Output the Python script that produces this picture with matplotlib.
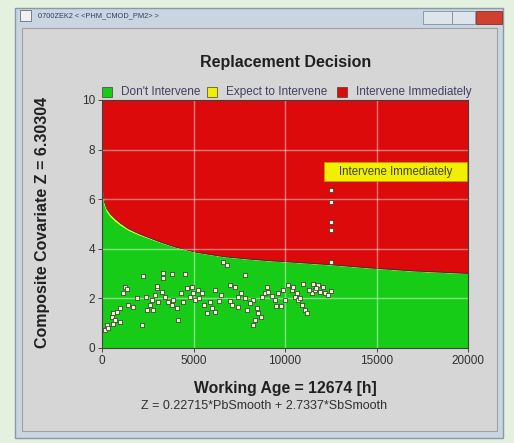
import matplotlib
matplotlib.use("Agg")
import matplotlib.pyplot as plt
from matplotlib.patches import Rectangle

plt.rcParams['font.family'] = ['Liberation Sans', 'DejaVu Sans']

# ---------------- data ----------------
title = "Replacement Decision"
legend_labels = ["Don't Intervene", "Expect to Intervene", "Intervene Immediately"]
x_ticks = [0, 5000, 10000, 15000, 20000]
y_ticks = [0, 2, 4, 6, 8, 10]

# decision boundary (green / red limit)
bound_t = [0, 40, 120, 250, 450, 710, 1000, 1420, 2000, 2600, 3280, 4000,
           5080, 6000, 6720, 8000, 9000, 10270, 11100, 12500, 14640, 17000, 20000]
bound_z = [6.4, 6.0, 5.75, 5.5, 5.3, 5.12, 4.96, 4.76, 4.57, 4.41, 4.23, 4.06,
           3.86, 3.75, 3.67, 3.58, 3.52, 3.46, 3.42, 3.35, 3.22, 3.1, 3.0]
# yellow "expect to intervene" band thickness along the boundary
band_w = [0.3, 0.2, 0.16, 0.13, 0.11, 0.1, 0.08, 0.06, 0.045, 0.03, 0.02, 0.015,
          0.01, 0.01, 0.01, 0.01, 0.01, 0.01, 0.01, 0.01, 0.01, 0.01, 0.01]

# observed composite covariate values
obs_t = [165, 255, 345, 530, 620, 710, 800, 985, 1165, 1260, 1350, 1440, 1710,
         2170, 2260, 2440, 2620, 2715, 2800, 2900, 2990, 3080, 3260, 3350, 3350,
         3440, 3800, 3800, 3900, 4080, 4170, 4535, 4630, 4810, 4900, 4990, 5080,
         5260, 5450, 5720, 5900, 5990, 6170, 6170, 6630, 6810, 6990, 7090, 7270,
         7450, 7450, 7810, 7810, 7910, 8270, 8270, 8360, 8450, 8540, 8730, 8910,
         9000, 9090, 9450, 9630, 9910, 10000, 10180, 10370, 10450, 10550, 10730,
         10820, 10910, 10910, 11090, 11190, 11460, 11550, 11640, 11820, 11910,
         12190, 12370, 1900, 3600, 4300, 5600, 6400, 7600, 8100, 9300, 9800,
         10650, 11300, 12050, 12500, 600, 1000, 2400, 3000, 4400, 5300, 6500,
         7000, 8700, 9500, 11000, 11700,
         12500, 12500, 12500, 12500, 12500]
obs_z = [0.73, 0.93, 0.8, 1.26, 1.4, 1.13, 1.47, 1.6, 2.23, 2.45, 2.37, 1.73, 1.67,
         0.93, 2.9, 1.53, 1.73, 1.94, 1.53, 2.14, 2.41, 1.87, 2.27, 3.04, 2.81,
         2.07, 2.98, 1.73, 1.94, 1.6, 1.13, 2.98, 2.41, 2.07, 2.47, 2.2, 1.94,
         2.34, 2.2, 1.4, 1.87, 1.6, 2.34, 1.47, 3.48, 3.35, 2.54, 1.73, 2.47,
         2.07, 1.67, 2.0, 2.94, 1.53, 1.94, 0.93, 1.13, 1.6, 1.4, 2.07, 2.2,
         2.47, 2.27, 1.94, 2.2, 2.34, 1.94, 2.54, 2.34, 2.47, 2.07, 1.94,
         2.0, 1.73, 1.73, 1.53, 1.4, 2.2, 2.6, 2.34, 2.54, 2.27,
         2.2, 2.14, 2.0, 1.85, 2.2, 1.75, 1.9, 2.2, 1.8, 2.1, 1.7,
         2.2, 2.35, 2.45, 2.3, 0.95, 1.05, 2.05, 2.5, 1.85, 2.0, 2.15,
         1.9, 1.25, 1.7, 2.6, 2.4,
         3.48, 4.76, 5.09, 5.9, 6.37]

current_age = 12674
current_z = 6.30304
xlabel = "Working Age = 12674 [h]"
ylabel = "Composite Covariate Z = 6.30304"
formula = "Z = 0.22715*PbSmooth + 2.7337*SbSmooth"
window_title = "0700ZEK2 < <PHM_CMOD_PM2> >"
annot_text = "Intervene Immediately"

# ---------------- colors ----------------
RED = "#dc0a0a"
GREEN = "#16cc16"
YELLOW = "#f2f000"

W, H = 514, 443
fig = plt.figure(figsize=(W / 100, H / 100), dpi=100)
fig.patch.set_facecolor("#e3f1de")

def fx(px):
    return px / W

def fy(py):
    return 1 - py / H

def frect(x0, y0, x1, y1, **kw):
    fig.patches.append(Rectangle((fx(x0), fy(y1)), fx(x1) - fx(x0), fy(y0) - fy(y1),
                                 transform=fig.transFigure, **kw))

# window frame
frect(15, 8, 503, 438, facecolor="#c9d6e2", edgecolor="#8a98a8", lw=1.0, zorder=0)
frect(22, 28, 497, 431, facecolor="#d6d6d6", edgecolor="#a0a0a0", lw=0.8, zorder=0.5)
# title bar buttons
frect(423, 11, 452, 24, facecolor="#dde4ea", edgecolor="#8090a0", lw=0.6, zorder=1)
frect(452, 11, 475, 24, facecolor="#dde4ea", edgecolor="#8090a0", lw=0.6, zorder=1)
frect(476, 11, 502, 24, facecolor="#d04030", edgecolor="#8a3020", lw=0.6, zorder=1)
frect(20, 10, 31, 21, facecolor="#f0f0f0", edgecolor="#607080", lw=0.6, zorder=1)
fig.text(fx(38), fy(16), window_title, fontsize=5.3, color="#304060",
         va="center", ha="left")

# axes
ax = fig.add_axes([fx(102), fy(348), fx(468) - fx(102), fy(100) - fy(348)])
ax.set_zorder(3)
ax.set_xlim(0, 20000)
ax.set_ylim(0, 10)

upper = [z + w for z, w in zip(bound_z, band_w)]
ax.fill_between(bound_t, 0, bound_z, color=GREEN, lw=0, zorder=1)
ax.fill_between(bound_t, bound_z, upper, color=YELLOW, lw=0, zorder=1)
ax.fill_between(bound_t, upper, 10, color=RED, lw=0, zorder=1)
ax.plot(bound_t, upper, color="#303030", lw=0.6, zorder=2)

for v in x_ticks[1:-1]:
    ax.axvline(v, color="white", alpha=0.45, lw=1.0, zorder=2.5)
for v in y_ticks[1:-1]:
    ax.axhline(v, color="white", alpha=0.45, lw=1.0, zorder=2.5)

ax.scatter(obs_t, obs_z, marker="s", s=7, facecolor="#f4f4d0",
           edgecolor="#303030", linewidths=0.5, zorder=3)

# annotation box
ax.add_patch(Rectangle((12130, 6.73), 19945 - 12130, 0.75, facecolor=YELLOW,
                       edgecolor="#b0a000", lw=0.5, zorder=4))
ax.text((12130 + 19945) / 2, 7.1, annot_text, fontsize=8.3, color="#404040",
        ha="center", va="center", zorder=5)

ax.set_xticks(x_ticks)
ax.set_yticks(y_ticks)
ax.tick_params(labelsize=8.5, colors="#303030", length=3, width=0.6, pad=2)
for s in ax.spines.values():
    s.set_color("#404040")
    s.set_linewidth(0.8)

# titles and labels
fig.text(fx(286), fy(63), title, fontsize=11.5, fontweight="bold",
         ha="center", va="center", color="#202020")
fig.text(fx(285), fy(389), xlabel, fontsize=11.3, fontweight="bold",
         ha="center", va="center", color="#202020")
fig.text(fx(264), fy(406), formula, fontsize=9,
         ha="center", va="center", color="#303030")
fig.text(fx(43), fy(222), ylabel, fontsize=11.5, fontweight="bold", rotation=90,
         ha="center", va="center", color="#202020")

# legend row
leg_colors = [GREEN, YELLOW, RED]
leg_x = [102, 207, 337]
for lx, c, lab in zip(leg_x, leg_colors, legend_labels):
    frect(lx, 87, lx + 10, 97, facecolor=c, edgecolor="#404040", lw=0.5, zorder=2)
    fig.text(fx(lx + 19), fy(92), lab, fontsize=8.5, color="#404060",
             ha="left", va="center")

fig.savefig("out.png", dpi=100, facecolor=fig.get_facecolor())
